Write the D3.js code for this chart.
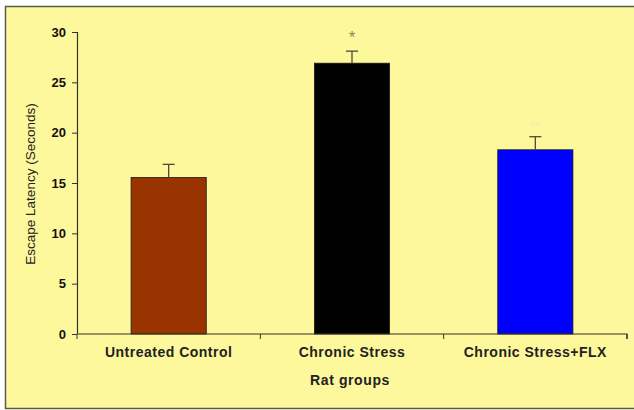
<!DOCTYPE html>
<html>
<head>
<meta charset="utf-8">
<script src="https://cdn.jsdelivr.net/npm/d3@7"></script>
<style>
  body { margin: 0; background: #fff; }
  svg { display: block; font-family: "Liberation Sans", Arial, sans-serif; }
</style>
</head>
<body>
<div id="chart"></div>
<script>
// data
var groups = ["Untreated Control", "Chronic Stress", "Chronic Stress+FLX"];
var latency = [15.55, 26.9, 18.3];
var errUp = [1.3, 1.2, 1.3];
var barColors = ["#993300", "#000000", "#0000ff"];
var marks = ["", "*", "##"];
var yTicks = [0, 5, 10, 15, 20, 25, 30];

var W = 634, H = 410;
var margin = {top: 32, right: 7, bottom: 76, left: 77};
var width = W - margin.left - margin.right,
    height = H - margin.top - margin.bottom;

var svg = d3.select("#chart").append("svg")
    .attr("width", W)
    .attr("height", H);

// chart frame
svg.append("rect")
    .attr("x", 5.5).attr("y", 6.5)
    .attr("width", 640).attr("height", 402)
    .attr("fill", "#fef89c")
    .attr("stroke", "#5b5b4a")
    .attr("stroke-width", 1.5);

var g = svg.append("g")
    .attr("transform", "translate(" + margin.left + "," + margin.top + ")");

var x = d3.scaleBand()
    .domain(groups)
    .range([0, width])
    .paddingInner(0.59)
    .paddingOuter(0.295);

var y = d3.scaleLinear()
    .domain([0, 30])
    .range([height, 0]);

// bars
g.selectAll("rect.bar")
    .data(groups)
    .enter()
    .append("rect")
      .attr("class", "bar")
      .attr("x", function(d) { return x(d); })
      .attr("y", function(d, i) { return y(latency[i]); })
      .attr("width", x.bandwidth())
      .attr("height", function(d, i) { return height - y(latency[i]); })
      .attr("fill", function(d, i) { return barColors[i]; })
      .attr("stroke", "#1a1a1a")
      .attr("stroke-width", 0.8);

// error bars (upper half only)
var eb = g.selectAll("g.err")
    .data(groups)
    .enter()
    .append("g")
      .attr("class", "err");
eb.append("line")
    .attr("x1", function(d) { return x(d) + x.bandwidth() / 2; })
    .attr("x2", function(d) { return x(d) + x.bandwidth() / 2; })
    .attr("y1", function(d, i) { return y(latency[i]); })
    .attr("y2", function(d, i) { return y(latency[i] + errUp[i]); })
    .attr("stroke", "#4a4a38").attr("stroke-width", 1.3);
eb.append("line")
    .attr("x1", function(d) { return x(d) + x.bandwidth() / 2 - 6; })
    .attr("x2", function(d) { return x(d) + x.bandwidth() / 2 + 6; })
    .attr("y1", function(d, i) { return y(latency[i] + errUp[i]); })
    .attr("y2", function(d, i) { return y(latency[i] + errUp[i]); })
    .attr("stroke", "#4a4a38").attr("stroke-width", 1.3);

// significance marks
g.selectAll("text.mark")
    .data(groups)
    .enter()
    .append("text")
      .attr("class", "mark")
      .attr("x", function(d) { return x(d) + x.bandwidth() / 2; })
      .attr("y", function(d, i) { return y(latency[i] + errUp[i]) - (i === 1 ? 8 : 10); })
      .attr("text-anchor", "middle")
      .attr("font-size", function(d, i) { return i === 1 ? 17 : 9; })
      .attr("fill", function(d, i) { return i === 1 ? "#8b8a5c" : "#f4edb0"; })
      .text(function(d, i) { return marks[i]; });

// y axis
var yAxis = g.append("g")
    .call(d3.axisLeft(y).tickValues(yTicks).tickSize(5).tickPadding(6));
yAxis.select(".domain").attr("stroke", "#33332a").attr("stroke-width", 1.2)
    .attr("d", "M-5,0.5H0.5V" + height);
yAxis.selectAll(".tick line").attr("stroke", "#33332a");
yAxis.selectAll(".tick text")
    .attr("font-size", 13).attr("font-weight", "bold")
    .attr("fill", "#111").attr("font-family", "Liberation Sans, Arial, sans-serif");

// x axis with category separators
var xAxis = g.append("g")
    .attr("transform", "translate(0," + height + ")")
    .call(d3.axisBottom(x).tickSize(0).tickPadding(13));
xAxis.select(".domain").attr("stroke", "#33332a").attr("stroke-width", 1.2)
    .attr("d", "M0.5,0H" + width + "V5");
xAxis.selectAll(".tick text")
    .attr("font-size", 14).attr("font-weight", "bold")
    .attr("fill", "#222").attr("letter-spacing", 0.5)
    .attr("font-family", "Liberation Sans, Arial, sans-serif");
xAxis.selectAll("line.sep")
    .data(d3.range(groups.length + 1))
    .enter()
    .append("line")
      .attr("class", "sep")
      .attr("x1", function(d) { return d * width / groups.length; })
      .attr("x2", function(d) { return d * width / groups.length; })
      .attr("y1", 0).attr("y2", 5)
      .attr("stroke", "#33332a");

// axis titles
svg.append("text")
    .attr("x", margin.left + width / 2 - 2)
    .attr("y", 385)
    .attr("text-anchor", "middle")
    .attr("font-size", 14).attr("font-weight", "bold")
    .attr("letter-spacing", 0.6)
    .attr("fill", "#222")
    .text("Rat groups");

svg.append("text")
    .attr("transform", "translate(35," + (margin.top + height / 2 + 1) + ") rotate(-90)")
    .attr("text-anchor", "middle")
    .attr("font-size", 13.5)
    .attr("fill", "#222")
    .text("Escape Latency (Seconds)");
</script>
</body>
</html>
